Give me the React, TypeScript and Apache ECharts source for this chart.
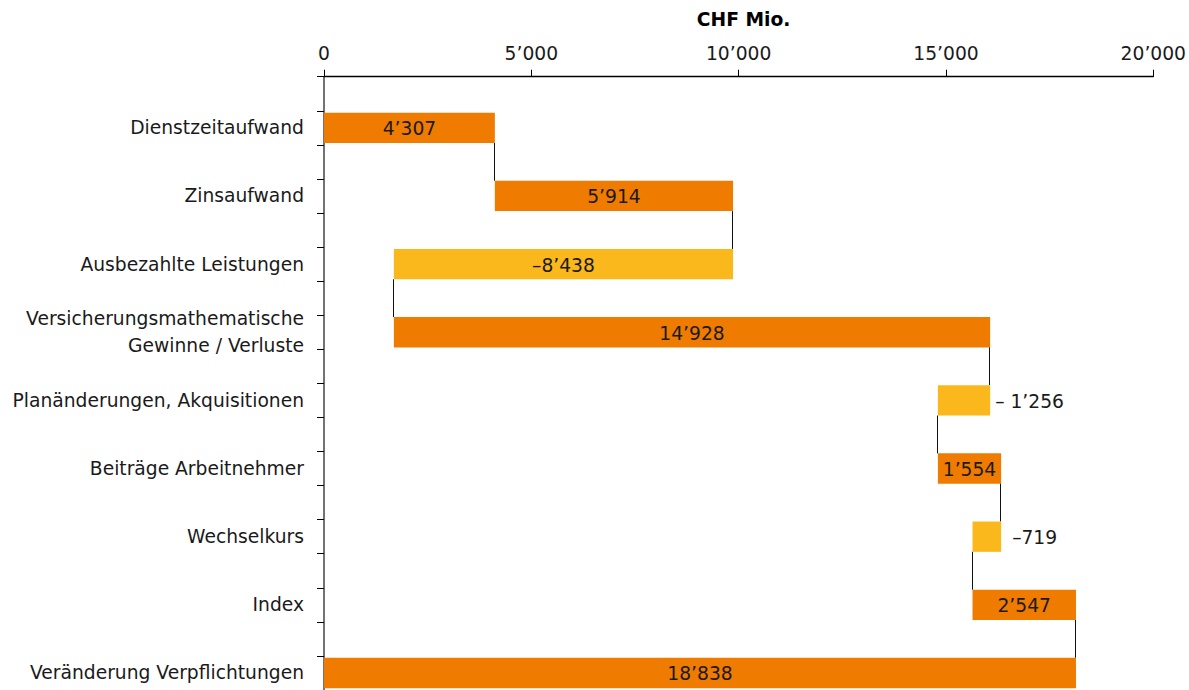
import React, { useEffect, useRef } from "react";
import * as echarts from "echarts";

const categories = [
  "Dienstzeitaufwand",
  "Zinsaufwand",
  "Ausbezahlte Leistungen",
  "Versicherungsmathematische\nGewinne / Verluste",
  "Planänderungen, Akquisitionen",
  "Beiträge Arbeitnehmer",
  "Wechselkurs",
  "Index",
  "Veränderung Verpflichtungen",
];

// bar lengths (CHF Mio.)
const deltas = [4120, 5745, -8180, 14380, -1260, 1525, -690, 2495];
const total = 18135;

// printed value labels
const valueLabels = ["4’307", "5’914", "–8’438", "14’928", "– 1’256", "1’554", "–719", "2’547", "18’838"];
// label placement: true = outside right of the bar
const labelOutside = [false, false, false, false, true, false, true, false, false];
const outsideGap = [0, 0, 0, 0, 5, 0, 11, 0, 0];

const xTicks = [0, 5000, 10000, 15000, 20000];
const xTickLabels = ["0", "5’000", "10’000", "15’000", "20’000"];

const ORANGE = "#EF7B00";
const YELLOW = "#FBB81D";
const FONT = "DejaVu Sans";
const FS = 18.7;
const BAR_UNITS = 0.89;

export default function App() {
  const ref = useRef<HTMLDivElement>(null);

  useEffect(() => {
    if (!ref.current) return;
    const chart = echarts.init(ref.current, undefined, { renderer: "svg" });

    const data: number[][] = [];
    let run = 0;
    deltas.forEach((d, i) => {
      data.push([run, run + d, 1.5 + 2 * i, d < 0 ? 1 : 0, i]);
      run += d;
    });
    data.push([0, total, 1.5 + 2 * deltas.length, 0, deltas.length]);

    const labelPositions = categories.map((_, i) => 1.5 + 2 * i);

    const option: any = {
      animation: false,
      grid: { left: 324, top: 76.7, right: 33.7, height: 617, containLabel: false },
      xAxis: {
        type: "value",
        position: "top",
        min: 0,
        max: 20000,
        interval: 5000,
        name: "CHF Mio.",
        nameLocation: "middle",
        nameGap: 48,
        nameTextStyle: { fontFamily: FONT, fontSize: FS, fontWeight: "bold", color: "#000", padding: [0, 0, 0, 10] },
        axisLine: { show: true, lineStyle: { color: "#000", width: 1.3 } },
        axisTick: { show: true, length: 7, lineStyle: { color: "#000", width: 1 } },
        axisLabel: {
          fontFamily: FONT,
          fontSize: FS,
          color: "#1a1a1a",
          margin: 14,
          formatter: (v: number) => {
            const idx = xTicks.indexOf(v);
            return idx >= 0 ? xTickLabels[idx] : "";
          },
        },
        splitLine: { show: false },
      },
      yAxis: {
        type: "value",
        inverse: true,
        min: 0,
        max: 18,
        interval: 1,
        axisLine: { show: true, lineStyle: { color: "#444", width: 1.5 } },
        axisTick: { show: true, length: 7, lineStyle: { color: "#000", width: 1 } },
        axisLabel: {
          show: true,
          customValues: labelPositions,
          fontFamily: FONT,
          fontSize: FS,
          color: "#1a1a1a",
          margin: 20,
          lineHeight: 26.5,
          align: "right",
          formatter: (v: number) => {
            const idx = Math.round((v - 1.5) / 2);
            return categories[idx] ?? "";
          },
        },
        splitLine: { show: false },
      },
      series: [
        {
          type: "custom",
          clip: false,
          encode: { x: [0, 1], y: 2 },
          data,
          renderItem: (params: any, api: any) => {
            const s = api.value(0);
            const e = api.value(1);
            const yc = api.value(2);
            const neg = api.value(3) === 1;
            const idx = api.value(4);
            const lo = Math.min(s, e);
            const hi = Math.max(s, e);
            const pLo = api.coord([lo, yc]);
            const pHi = api.coord([hi, yc]);
            const h = api.size([0, BAR_UNITS])[1];
            const children: any[] = [
              {
                type: "rect",
                shape: { x: pLo[0], y: pLo[1] - h / 2, width: pHi[0] - pLo[0], height: h },
                style: { fill: neg ? YELLOW : ORANGE },
              },
            ];
            if (idx < categories.length - 1) {
              const a = api.coord([e, yc + BAR_UNITS / 2]);
              const b = api.coord([e, yc + 2 - BAR_UNITS / 2]);
              const xl = Math.round(a[0]) - 0.5;
              children.push({
                type: "line",
                shape: { x1: xl, y1: a[1], x2: xl, y2: b[1] },
                style: { stroke: "#111", lineWidth: 1 },
              });
            }
            const outside = labelOutside[idx];
            children.push({
              type: "text",
              style: {
                text: valueLabels[idx],
                x: outside ? pHi[0] + outsideGap[idx] : (pLo[0] + pHi[0]) / 2,
                y: pLo[1] + 1,
                align: outside ? "left" : "center",
                verticalAlign: "middle",
                fill: "#1a1a1a",
                fontFamily: FONT,
                fontSize: FS,
              },
              z2: 10,
            });
            return { type: "group", children };
          },
        },
      ],
    };

    chart.setOption(option);
    return () => chart.dispose();
  }, []);

  return (
    <div
      ref={ref}
      style={{ position: "absolute", left: 0, top: 0, width: 1189, height: 690, background: "#fff" }}
    />
  );
}
